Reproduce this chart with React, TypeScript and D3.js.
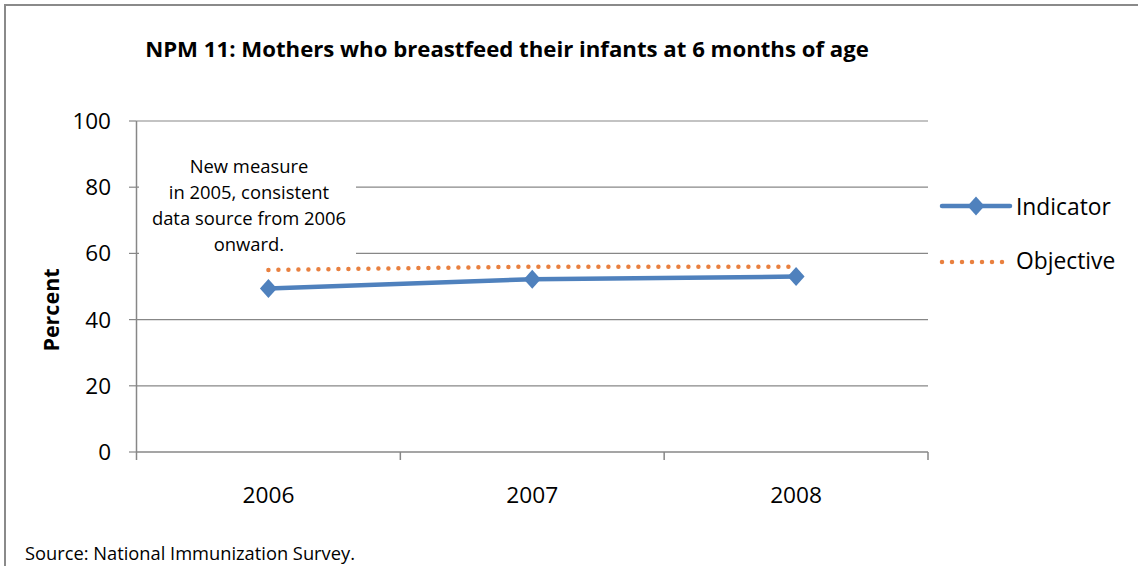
import React from "react";
import * as d3 from "d3";

const categories = ["2006", "2007", "2008"];
const indicatorValues = [49.4, 52.2, 53.0];
const objectiveValues = [55, 56, 56];
const yTicks = [0, 20, 40, 60, 80, 100];
const titleText = "NPM 11: Mothers who breastfeed their infants at 6 months of age";
const annotationLines = ["New measure", "in 2005, consistent", "data source from 2006", "onward."];
const legendItems = ["Indicator", "Objective"];
const sourceText = "Source: National Immunization Survey.";

const W = 1138, H = 566;
const FONT = "'Open Sans', 'Noto Sans', sans-serif";
const BLUE = "#4F81BD";
const ORANGE = "#E9803F";
const GRID = "#878787";

const diamondPath = "M0,-9.5L8.5,0L0,9.5L-8.5,0Z";

export default function App() {
  const x = d3.scaleBand<string>().domain(categories).range([136.5, 928]);
  const y = d3.scaleLinear().domain([0, 100]).range([452, 121]);
  const cx = (c: string) => (x(c) as number) + x.bandwidth() / 2;

  const line = d3.line<number>().x((_, i) => cx(categories[i])).y((v) => y(v));

  return (
    <svg width={W} height={H} style={{ display: "block", position: "absolute", left: 0, top: 0 }}>
      <rect x={0} y={0} width={W} height={H} fill="#fff" />
      <rect x={5} y={5} width={W + 20} height={H + 20} fill="none" stroke="#8a8a8a" strokeWidth={2} />
      <text x={507} y={57} textAnchor="middle" fontFamily={FONT} fontWeight="bold" fontSize={22.2} fill="#000">
        {titleText}
      </text>
      {/* gridlines */}
      {yTicks.filter((t) => t > 0).map((t) => (
        <line key={t} x1={136.5} x2={928} y1={y(t)} y2={y(t)} stroke={GRID} strokeWidth={1.2} />
      ))}
      {/* y axis */}
      <line x1={136.5} x2={136.5} y1={y(100)} y2={y(0)} stroke={GRID} strokeWidth={1.5} />
      {yTicks.map((t) => (
        <g key={t}>
          <line x1={129} x2={136.5} y1={y(t)} y2={y(t)} stroke={GRID} strokeWidth={1.2} />
          <text x={111} y={y(t) + 8} textAnchor="end" fontFamily={FONT} fontSize={22.5} fill="#000">{t}</text>
        </g>
      ))}
      {/* x axis */}
      <line x1={136.5} x2={928} y1={y(0)} y2={y(0)} stroke={GRID} strokeWidth={1.5} />
      {[...categories.map((c) => x(c) as number), 928].map((px, i) => (
        <line key={i} x1={px} x2={px} y1={y(0)} y2={y(0) + 8} stroke={GRID} strokeWidth={1.5} />
      ))}
      {categories.map((c) => (
        <text key={c} x={cx(c)} y={503} textAnchor="middle" fontFamily={FONT} fontSize={22.7} fill="#000">{c}</text>
      ))}
      <text transform="translate(59,310) rotate(-90)" textAnchor="middle" fontFamily={FONT} fontWeight="bold" fontSize={21.5} fill="#000">Percent</text>
      {/* annotation box */}
      <rect x={139} y={143} width={217} height={116} fill="#fff" />
      {annotationLines.map((l, i) => (
        <text key={i} x={249} y={172.5 + i * 26} textAnchor="middle" fontFamily={FONT} fontSize={18.4} fill="#000">{l}</text>
      ))}
      {/* series */}
      <path d={line(objectiveValues) as string} fill="none" stroke={ORANGE} strokeWidth={4.5} strokeDasharray="0 10" strokeLinecap="round" />
      <path d={line(indicatorValues) as string} fill="none" stroke={BLUE} strokeWidth={4.5} />
      {indicatorValues.map((v, i) => (
        <path key={i} d={diamondPath} transform={`translate(${cx(categories[i])},${y(v)})`} fill={BLUE} />
      ))}
      {/* legend */}
      <line x1={942} x2={1010} y1={206} y2={206} stroke={BLUE} strokeWidth={4.5} strokeLinecap="round" />
      <path d={diamondPath} transform="translate(976,206)" fill={BLUE} />
      <text x={1016} y={215} fontFamily={FONT} fontSize={22.8} fill="#000">{legendItems[0]}</text>
      <line x1={942} x2={1004} y1={262} y2={262} stroke={ORANGE} strokeWidth={4.5} strokeDasharray="0 10" strokeLinecap="round" />
      <text x={1016} y={269} fontFamily={FONT} fontSize={22.8} fill="#000">{legendItems[1]}</text>
      <text x={25} y={560} fontFamily={FONT} fontSize={18.3} fill="#000">{sourceText}</text>
    </svg>
  );
}
